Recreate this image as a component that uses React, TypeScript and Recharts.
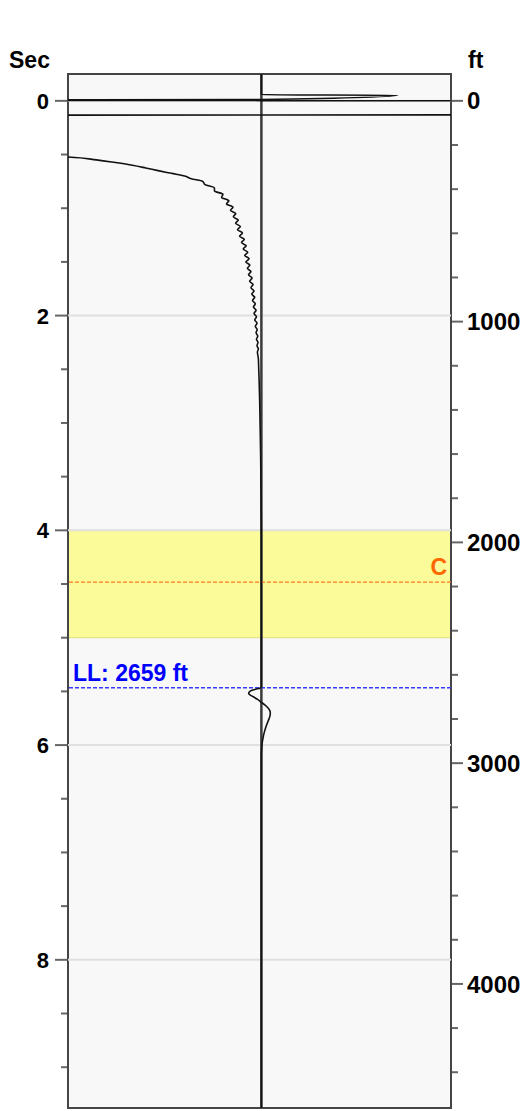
import {
  CartesianGrid,
  ReferenceArea,
  ReferenceLine,
  Scatter,
  ScatterChart,
  XAxis,
  YAxis,
} from "recharts";

// axis ticks
const secTicks = [0, 0.5, 1, 1.5, 2, 2.5, 3, 3.5, 4, 4.5, 5, 5.5, 6, 6.5, 7, 7.5, 8, 8.5, 9];
const secLabels = [0, 2, 4, 6, 8];
const ftTicks = [
  0, 200, 400, 600, 800, 1000, 1200, 1400, 1600, 1800, 2000, 2200, 2400, 2600, 2800, 3000,
  3200, 3400, 3600, 3800, 4000, 4200, 4400,
];
const ftLabels = [0, 1000, 2000, 3000, 4000];
const gridSecs = [0, 2, 4, 6, 8];

// zone + markers
const zoneSec = [4, 5];
const markerC = 2180;
const markerLL = 2659;

// trace: first break / heavy clipped swings at the top
const headSec = [-0.25, -0.056, -0.052, -0.012, -0.008, 0.003, 0.128, 0.136, 0.5, 0.515];
const headAmp = [0, 0, 0.72, 0, -3, 3, 3, -3, -3, -1.25];

// trace: decaying curve coming in from the left
const curveSec = [
  0.523, 0.55, 0.575, 0.6, 0.625, 0.65, 0.675, 0.7, 0.725, 0.75, 0.78, 0.81, 0.84, 0.87, 0.9,
  0.93, 0.96, 0.99, 1.02, 1.05, 1.08, 1.11, 1.14, 1.17, 1.2, 1.23, 1.26, 1.29, 1.32, 1.35,
  1.38, 1.41, 1.44, 1.47, 1.5, 1.53, 1.56, 1.59, 1.62, 1.65, 1.68, 1.71, 1.74, 1.77, 1.8,
  1.83, 1.86, 1.89, 1.92, 1.95, 1.98, 2.01, 2.04, 2.07, 2.1, 2.13, 2.16, 2.19, 2.22, 2.25,
  2.28, 2.31, 2.34, 2.4, 2.5, 2.6, 2.8, 3.0, 3.3, 3.6, 4.0,
];
const curveAmp = [
  -1.02, -0.87, -0.77, -0.68, -0.61, -0.545, -0.475, -0.405, -0.37, -0.31, -0.297, -0.248,
  -0.247, -0.203, -0.21, -0.172, -0.184, -0.15, -0.163, -0.135, -0.148, -0.122, -0.136,
  -0.111, -0.126, -0.1, -0.115, -0.09, -0.105, -0.08, -0.096, -0.072, -0.088, -0.065, -0.082,
  -0.061, -0.074, -0.055, -0.068, -0.049, -0.062, -0.044, -0.055, -0.039, -0.051, -0.035,
  -0.047, -0.032, -0.042, -0.028, -0.039, -0.026, -0.035, -0.023, -0.032, -0.022, -0.028,
  -0.019, -0.026, -0.018, -0.023, -0.016, -0.021, -0.016, -0.014, -0.012, -0.009, -0.007,
  -0.004, -0.002, 0,
];

// trace: wiggle at the LL event and the tail
const eventSec = [
  5.46, 5.47, 5.48, 5.49, 5.505, 5.52, 5.535, 5.55, 5.575, 5.6, 5.625, 5.65, 5.675, 5.7, 5.73,
  5.77, 5.82, 5.87, 5.92, 5.97, 6.02, 6.1, 9.38,
];
const eventAmp = [
  0, -0.008, -0.03, -0.05, -0.064, -0.067, -0.058, -0.043, -0.02, -0.002, 0.018, 0.033, 0.043,
  0.047, 0.045, 0.037, 0.026, 0.017, 0.01, 0.005, 0.002, 0, 0,
];

const trace = [
  ...headSec.map((s, i) => ({ sec: s, amp: headAmp[i] })),
  ...curveSec.map((s, i) => ({ sec: s, amp: curveAmp[i] })),
  ...eventSec.map((s, i) => ({ sec: s, amp: eventAmp[i] })),
];

// depth markers, so the ft axis has something of its own
const markers = [
  { ft: markerC, amp: 0 },
  { ft: markerLL, amp: 0 },
];

const FONT = "'Liberation Sans', Arial, sans-serif";

const SecTick = (props: any) => {
  const { x, y, payload } = props;
  const major = secLabels.includes(payload.value);
  return (
    <g>
      <line x1={x - (major ? 13 : 7)} x2={x - 1} y1={y} y2={y} stroke="#666" strokeWidth={2} />
      {major && (
        <text x={x - 19} y={y} dy="0.36em" textAnchor="end" fontFamily={FONT} fontWeight="bold" fontSize={22} fill="#000">
          {payload.value}
        </text>
      )}
    </g>
  );
};

const FtTick = (props: any) => {
  const { x, y, payload } = props;
  const major = ftLabels.includes(payload.value);
  return (
    <g>
      <line x1={x + 1} x2={x + (major ? 12 : 7)} y1={y} y2={y} stroke="#666" strokeWidth={2} />
      {major && (
        <text x={x + 16} y={y} dy="0.36em" textAnchor="start" fontFamily={FONT} fontWeight="bold" fontSize={24} fill="#000">
          {payload.value}
        </text>
      )}
    </g>
  );
};

const AxisTitle = (props: any) => {
  const { viewBox, text, dx } = props;
  return (
    <text x={viewBox.x + dx} y={viewBox.y - 6} fontFamily={FONT} fontWeight="bold" fontSize={23} fill="#000">
      {text}
    </text>
  );
};

const LineLabel = (props: any) => {
  const { viewBox, text, color, anchor } = props;
  const x = anchor === "end" ? viewBox.x + viewBox.width - 4 : viewBox.x + 5;
  return (
    <text x={x} y={viewBox.y - 7} textAnchor={anchor} fontFamily={FONT} fontWeight="bold" fontSize={23} fill={color}>
      {text}
    </text>
  );
};

const App = () => {
  return (
    <div style={{ position: "absolute", left: 0, top: 40, width: 527, height: 1071 }}>
      <ScatterChart width={527} height={1071} margin={{ top: 34, right: 0, bottom: 3, left: 0 }}>
        <CartesianGrid fill="#f8f8f8" horizontal={false} vertical={false} yAxisId="sec" />
        <XAxis type="number" dataKey="amp" domain={[-1.02, 1]} allowDataOverflow hide />
        <YAxis
          yAxisId="sec"
          type="number"
          dataKey="sec"
          orientation="left"
          reversed
          domain={[-0.25, 9.38]}
          allowDataOverflow
          ticks={secTicks}
          interval={0}
          width={68}
          tickSize={0}
          tickMargin={0}
          tickLine={false}
          axisLine={false}
          tick={(p: any) => <SecTick {...p} />}
          label={<AxisTitle text="Sec" dx={9} />}
        />
        <YAxis
          yAxisId="ft"
          type="number"
          dataKey="ft"
          orientation="right"
          reversed
          domain={[-121.6, 4562]}
          allowDataOverflow
          ticks={ftTicks}
          interval={0}
          width={76}
          tickSize={0}
          tickMargin={0}
          tickLine={false}
          axisLine={false}
          tick={(p: any) => <FtTick {...p} />}
          label={<AxisTitle text="ft" dx={17} />}
        />
        {gridSecs.map((s) => (
          <ReferenceLine key={s} yAxisId="sec" y={s} stroke="#e0e0e0" strokeWidth={2} />
        ))}
        <ReferenceLine yAxisId="sec" x={0} stroke="#3a3a3a" strokeWidth={2.5} />
        <ReferenceArea
          yAxisId="sec"
          y1={zoneSec[0]}
          y2={zoneSec[1]}
          fill="#ffff00"
          fillOpacity={0.38}
          stroke="#c8c840"
          strokeOpacity={0.5}
          strokeWidth={1}
        />
        <ReferenceLine
          yAxisId="ft"
          y={markerC}
          stroke="#ff7a1a"
          strokeWidth={1.3}
          strokeDasharray="4 2"
          label={<LineLabel text="C" color="#ff6600" anchor="end" />}
        />
        <ReferenceLine
          yAxisId="ft"
          y={markerLL}
          stroke="#3a3aff"
          strokeWidth={1.5}
          strokeDasharray="4 2"
          label={<LineLabel text={`LL: ${markerLL} ft`} color="#0000ff" anchor="start" />}
        />
        <Scatter
          yAxisId="ft"
          data={markers}
          shape={() => <g />}
          legendType="none"
          isAnimationActive={false}
        />
        <Scatter
          yAxisId="sec"
          data={trace}
          line={{ stroke: "#111", strokeWidth: 1.6 }}
          lineType="joint"
          lineJointType="monotoneY"
          shape={() => <g />}
          legendType="none"
          isAnimationActive={false}
        />
        <ReferenceArea
          yAxisId="sec"
          x1={-1.02}
          x2={1}
          y1={-0.25}
          y2={9.38}
          fill="none"
          stroke="#454545"
          strokeWidth={2}
        />
      </ScatterChart>
    </div>
  );
};

export default App;
